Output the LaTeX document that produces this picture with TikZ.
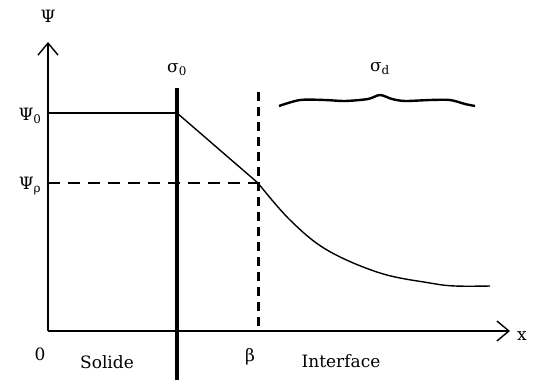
\documentclass[tikz,border=0pt]{standalone}
\usepackage{fontspec}
\setmainfont{DejaVu Serif}
\usepackage{tikz}
\usetikzlibrary{arrows.meta, positioning}

\begin{document}
\begin{tikzpicture}[
  x=1pt, y=-1pt,
  axis/.style={-{Straight Barb[length=12pt, width=20pt]}, line width=1.4pt},
  lbl/.style={font=\fontsize{17}{20}\selectfont, inner sep=1pt},
  wall/.style={line width=4.8pt},
  plane/.style={line width=3pt, dash pattern=on 9pt off 6pt},
  level/.style={line width=1.4pt, dash pattern=on 12pt off 8pt},
  curve/.style={line width=1.4pt}
]
\useasboundingbox (0,0) rectangle (543,380);

% axes
\coordinate (O) at (48,331);
\coordinate (ytip) at (48,42);
\coordinate (xtip) at (510,331);
\draw[axis] (O) -- (ytip);
\draw[axis] (O) -- (xtip);
\node[lbl] (psi) at (48,16) {Ψ};
\node[lbl] (xlab) at (522,336) {x};
\node[lbl] (zero) at (40,354) {0};

% surface and plane beta
\coordinate (wtop) at (177,88);
\coordinate (wbot) at (177,380);
\draw[wall] (wtop) -- (wbot);
\node[lbl] (sig0) at (177,70) {σ\textsubscript{0}};
\coordinate (btop) at (258,92);
\coordinate (bbot) at (258,331);
\draw[plane] (btop) -- (bbot);

% potential levels
\coordinate (p0) at (177,113);
\coordinate (pb) at (258,183);
\draw[curve] (O |- p0) -- (p0);
\draw[level] (O |- pb) -- (pb);
\node[lbl] (psi0) at (30,116) {Ψ\textsubscript{0}};
\node[lbl] (psib) at (30,186) {Ψ\textsubscript{ρ}};

% potential profile
\draw[curve] (p0) -- (pb);
\draw[curve] plot[smooth, tension=0.6] coordinates {(pb) (290,220) (327,250) (380,273) (430,283) (455,286) (490,286)};

% diffuse layer
\draw[line width=2.4pt] plot[smooth, tension=0.5] coordinates {(279,106) (300,100) (325,100) (345,101) (368,99) (380,95) (392,99) (405,101) (430,100) (450,100) (465,104) (475,106)};
\node[lbl] (sigd) at (380,69) {σ\textsubscript{d}};

% regions
\node[lbl] (solide) at (107,362) {Solide};
\node[lbl] (beta) at (250,357) {β};
\node[lbl] (interf) at (341,361) {Interface};
\end{tikzpicture}
\end{document}
